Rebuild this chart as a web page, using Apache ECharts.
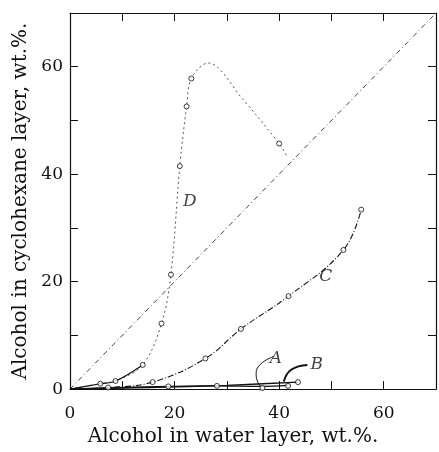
<!DOCTYPE html>
<html><head><meta charset="utf-8">
<script src="https://cdn.jsdelivr.net/npm/echarts@6/dist/echarts.min.js"></script>
<style>html,body{margin:0;padding:0;background:#fff}#c{width:439px;height:452px}</style>
</head><body><div id="c"></div>
<script>
// Data (x: alcohol in water layer, y: alcohol in cyclohexane layer, wt.%)
var diagonal = [[0,0],[70,70]];
var dCurve = [[0,0],[5.8,1.0],[8.7,1.5],[13.9,4.5],[17.5,12.2],[19.3,21.3],[21.0,41.5],[22.3,52.6],[23.2,57.8],[26.4,60.7],[33,54],[40,45.7],[41.4,43.5]];
var dSolidPart = [[0,0],[5.8,1.0],[8.7,1.5],[13.9,4.5]];
var dPoints = [[5.8,1.0],[8.7,1.5],[13.9,4.5],[17.5,12.2],[19.3,21.3],[21.0,41.5],[22.3,52.6],[23.2,57.8],[40,45.7]];
var cCurve = [[0,0],[7.3,0.3],[15.8,1.3],[25.9,5.7],[32.7,11.2],[41.8,17.3],[52.3,25.9],[55.7,33.4]];
var cPoints = [[7.3,0.3],[15.8,1.3],[25.9,5.7],[32.7,11.2],[41.8,17.3],[52.3,25.9],[55.7,33.4]];
var aCurve = [[0,0],[10,0.3],[18.8,0.5],[28.1,0.6],[36.8,0.5],[41.7,0.7]];
var aPoints = [[18.8,0.5],[28.1,0.6],[36.8,0.2],[41.7,0.6]];
var bCurve = [[0,0],[5,0.1],[15,0.3],[30,0.7],[43.6,1.3]];
var bPoints = [[43.6,1.3]];
var aLeader = [[39.1,6.1],[36.4,4.6],[35.6,2.6],[36.6,0.2]];
var bLeader = [[45.4,4.5],[42.3,3.6],[40.9,1.4]];
var curveLabels = [[39.4,5.6,'A'],[47.2,4.6,'B'],[48.9,21,'C'],[22.9,34.9,'D']];
var xTicks = [0,20,40,60];
var yTicks = [0,20,40,60];

var serif = '"DejaVu Serif","Liberation Serif",serif';
var ink = '#111';
var chart = echarts.init(document.getElementById('c'));
function axisCommon(show, pos){
  return {
    type:'value', min:0, max:70, interval:10, position:pos,
    axisLine:{show:true, onZero:false, lineStyle:{color:ink, width:1.2}},
    axisTick:{show:true, inside:true, length:8, lineStyle:{color:ink, width:1}},
    splitLine:{show:false},
    axisLabel:{show:show, fontFamily:serif, fontSize:17, color:ink, margin:(pos==='bottom'?16:7),
      formatter:function(v){return (pos==='bottom'?xTicks:yTicks).indexOf(v)>=0 ? String(v) : '';}}
  };
}
var xb = axisCommon(true,'bottom');
xb.name = 'Alcohol in water layer, wt.%.';
xb.nameLocation = 'middle'; xb.nameGap = 35;
xb.nameTextStyle = {fontFamily:serif, fontSize:20, color:ink, padding:[0,40,0,0]};
var xt = axisCommon(false,'top');
var yl = axisCommon(true,'left');
yl.name = 'Alcohol in cyclohexane layer, wt.%.';
yl.nameLocation = 'middle'; yl.nameGap = 34;
yl.nameTextStyle = {fontFamily:serif, fontSize:20, color:ink};
var yr = axisCommon(false,'right');

function line(data, style, smooth){
  return {type:'line', data:data, xAxisIndex:0, yAxisIndex:0, showSymbol:false, symbol:'none',
    smooth:smooth, lineStyle:style, silent:true, z:2};
}
function pts(data){
  return {type:'scatter', data:data, xAxisIndex:0, yAxisIndex:0, symbol:'circle', symbolSize:5,
    itemStyle:{color:'#fff', borderColor:ink, borderWidth:1}, z:5, silent:true};
}
chart.setOption({
  animation:false,
  backgroundColor:'#fff',
  grid:{left:70, right:0, top:13, bottom:61, containLabel:false},
  xAxis:[xb, xt],
  yAxis:[yl, yr],
  series:[
    line(diagonal, {color:'#444', width:1, type:[5,3,1,3]}, false),
    line(dCurve, {color:'#555', width:1, type:[2,3]}, 0.35),
    line(dSolidPart, {color:ink, width:1.2}, 0.35),
    line(cCurve, {color:ink, width:1.1, type:[6,2,1,2]}, 0.4),
    line(aCurve, {color:ink, width:1.4}, 0.3),
    line(bCurve, {color:ink, width:1.4}, 0.3),
    line(aLeader, {color:ink, width:1}, 0.5),
    line(bLeader, {color:ink, width:2}, 0.5),
    pts(dPoints), pts(cPoints), pts(aPoints), pts(bPoints),
    {type:'scatter', data:curveLabels, symbolSize:0, silent:true, z:6,
     label:{show:true, position:'inside', formatter:function(p){return p.data[2];},
       fontFamily:serif, fontStyle:'italic', fontSize:17, color:ink}}
  ]
});
</script></body></html>
